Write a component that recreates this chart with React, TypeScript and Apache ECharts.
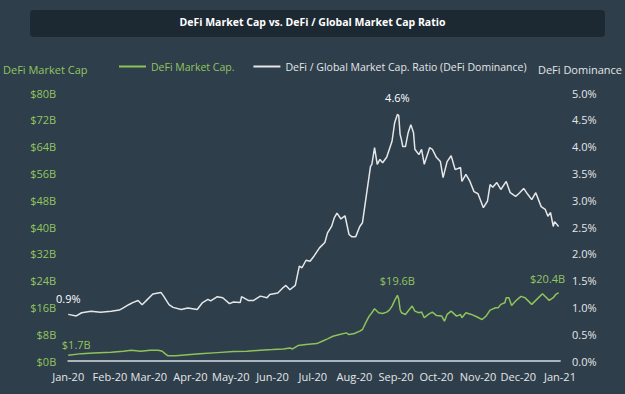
import React, { useEffect, useRef } from "react";
import * as echarts from "echarts";

const TITLE = "DeFi Market Cap vs. DeFi / Global Market Cap Ratio";
const CAP_NAME = "DeFi Market Cap.";
const DOM_NAME = "DeFi / Global Market Cap. Ratio (DeFi Dominance)";
const LEFT_AXIS_NAME = "DeFi Market Cap";
const RIGHT_AXIS_NAME = "DeFi Dominance";

const capDates = [
  "2020-01-01", "2020-01-11", "2020-01-20", "2020-02-02", "2020-02-11", "2020-02-17", "2020-02-24",
  "2020-03-02", "2020-03-08", "2020-03-11", "2020-03-13", "2020-03-15", "2020-03-21", "2020-03-30",
  "2020-04-08", "2020-04-21", "2020-05-03", "2020-05-13", "2020-05-23", "2020-06-01", "2020-06-09",
  "2020-06-14", "2020-06-16", "2020-06-20", "2020-06-26", "2020-07-04", "2020-07-08", "2020-07-12",
  "2020-07-16", "2020-07-21", "2020-07-26", "2020-07-28", "2020-08-01", "2020-08-05", "2020-08-07",
  "2020-08-10", "2020-08-12", "2020-08-14", "2020-08-16", "2020-08-19", "2020-08-22", "2020-08-25",
  "2020-08-27", "2020-08-29", "2020-08-31", "2020-09-02", "2020-09-03", "2020-09-04", "2020-09-05",
  "2020-09-08", "2020-09-10", "2020-09-13", "2020-09-15", "2020-09-18", "2020-09-20", "2020-09-22",
  "2020-09-25", "2020-09-28", "2020-10-01", "2020-10-05", "2020-10-07", "2020-10-09", "2020-10-12",
  "2020-10-16", "2020-10-19", "2020-10-20", "2020-10-23", "2020-10-27", "2020-10-31", "2020-11-04",
  "2020-11-07", "2020-11-10", "2020-11-14", "2020-11-16", "2020-11-18", "2020-11-21", "2020-11-22",
  "2020-11-24", "2020-11-26", "2020-11-29", "2020-12-01", "2020-12-03", "2020-12-06", "2020-12-08",
  "2020-12-11", "2020-12-14", "2020-12-17", "2020-12-19", "2020-12-22", "2020-12-24", "2020-12-27",
  "2020-12-29", "2020-12-31",
];
const capValues = [
  1.7, 2.2, 2.4, 2.6, 2.9, 3.2, 2.9,
  3.2, 3.2, 2.9, 2.2, 1.6, 1.6, 1.9,
  2.2, 2.5, 2.8, 2.9, 3.2, 3.4, 3.6,
  3.9, 3.6, 4.6, 4.9, 5.2, 5.9, 6.6,
  7.4, 7.9, 8.4, 7.9, 8.2, 8.9, 9.4,
  11.9, 13.4, 14.4, 15.6, 14.4, 14.2, 14.6,
  15.2, 16.4, 18.1, 19.6, 18.4, 15.4, 14.4,
  13.9, 14.9, 16.4, 14.9, 14.4, 14.6, 12.9,
  13.9, 14.6, 13.6, 13.4, 11.9, 13.9, 14.9,
  13.4, 13.9, 12.9, 14.4, 13.9, 13.2, 12.4,
  13.4, 15.2, 15.9, 15.9, 16.9, 17.4, 18.9,
  18.9, 16.6, 17.9, 18.6, 19.3, 18.9, 18.1,
  16.9, 18.1, 19.3, 20.1, 18.9, 18.1, 18.9,
  19.9, 20.4,
];

const domDates = [
  "2020-01-01", "2020-01-07", "2020-01-11", "2020-01-18", "2020-01-25", "2020-02-02", "2020-02-08",
  "2020-02-11", "2020-02-15", "2020-02-18", "2020-02-22", "2020-02-25", "2020-02-29", "2020-03-04",
  "2020-03-10", "2020-03-12", "2020-03-16", "2020-03-19", "2020-03-25", "2020-03-30", "2020-04-06",
  "2020-04-10", "2020-04-14", "2020-04-16", "2020-04-21", "2020-04-25", "2020-04-30", "2020-05-03",
  "2020-05-08", "2020-05-09", "2020-05-14", "2020-05-18", "2020-05-23", "2020-05-28", "2020-05-30",
  "2020-06-05", "2020-06-09", "2020-06-11", "2020-06-14", "2020-06-18", "2020-06-21", "2020-06-23",
  "2020-06-26", "2020-06-29", "2020-07-02", "2020-07-06", "2020-07-10", "2020-07-12", "2020-07-15",
  "2020-07-17", "2020-07-19", "2020-07-22", "2020-07-25", "2020-07-28", "2020-07-30", "2020-08-02",
  "2020-08-05", "2020-08-07", "2020-08-10", "2020-08-13", "2020-08-14", "2020-08-16", "2020-08-18",
  "2020-08-20", "2020-08-22", "2020-08-25", "2020-08-27", "2020-08-29", "2020-08-31", "2020-09-02",
  "2020-09-03", "2020-09-04", "2020-09-05", "2020-09-06", "2020-09-08", "2020-09-10", "2020-09-12",
  "2020-09-14", "2020-09-15", "2020-09-18", "2020-09-20", "2020-09-22", "2020-09-26", "2020-09-28",
  "2020-10-01", "2020-10-04", "2020-10-06", "2020-10-09", "2020-10-12", "2020-10-15", "2020-10-19",
  "2020-10-20", "2020-10-23", "2020-10-26", "2020-10-29", "2020-11-01", "2020-11-05", "2020-11-08",
  "2020-11-10", "2020-11-12", "2020-11-15", "2020-11-18", "2020-11-22", "2020-11-25", "2020-11-29",
  "2020-12-02", "2020-12-05", "2020-12-08", "2020-12-11", "2020-12-14", "2020-12-18", "2020-12-21",
  "2020-12-23", "2020-12-25", "2020-12-27", "2020-12-28", "2020-12-31",
];
const domValues = [
  0.87, 0.84, 0.9, 0.93, 0.91, 0.93, 0.95,
  0.99, 1.05, 1.09, 1.13, 1.05, 1.15, 1.25,
  1.28, 1.21, 1.05, 1.0, 0.96, 0.99, 0.96,
  1.09, 1.15, 1.12, 1.2, 1.18, 1.07, 1.1,
  1.09, 1.2, 1.13, 1.13, 1.21, 1.18, 1.24,
  1.27, 1.37, 1.41, 1.33, 1.41, 1.77, 1.74,
  1.88, 1.86, 1.96, 2.11, 2.21, 2.39, 2.51,
  2.67, 2.76, 2.65, 2.71, 2.36, 2.32, 2.32,
  2.51, 2.58, 3.11, 3.63, 3.67, 3.98, 3.67,
  3.76, 3.7, 3.8, 3.95, 4.1, 4.45, 4.6,
  4.58, 4.23, 4.13, 4.0, 4.0, 4.26, 4.41,
  4.26, 3.95, 3.85, 3.95, 3.67, 3.98, 3.95,
  3.8, 3.72, 3.42, 3.72, 3.83, 3.57, 3.61,
  3.35, 3.48, 3.35, 3.16, 3.12, 2.86, 2.98,
  3.29, 3.24, 3.33, 3.2, 3.35, 3.14, 3.07,
  3.14, 3.22, 3.11, 3.01, 3.14, 2.88, 2.83,
  2.7, 2.77, 2.51, 2.6, 2.51,
];

const X_MIN = "2020-01-01";
const X_MAX = "2021-01-01";
const CAP_MAX = 80;
const CAP_STEP = 8;
const DOM_MAX = 5;
const DOM_STEP = 0.5;

const BG = "#2e3e4b";
const TITLE_BG = "#1d2932";
const GREEN = "#8dc35a";
const GREEN_TEXT = "#93c560";
const WHITE = "#e4e6e8";
const FONT = "'Open Sans', 'Noto Sans', sans-serif";

export default function App() {
  const ref = useRef<HTMLDivElement>(null);

  useEffect(() => {
    if (!ref.current) return;
    const chart = echarts.init(ref.current, undefined, { renderer: "svg" });

    const capData = capDates.map((d, i) => [d, capValues[i]]);
    const domData = domDates.map((d, i) => [d, domValues[i]]);

    const capPeak = capValues.indexOf(19.6);
    const capLast = capValues.length - 1;
    const domPeak = domValues.indexOf(Math.max(...domValues));

    const capMark = (i: number, offset: number[]) => ({
      coord: [capDates[i], capValues[i]],
      value: capValues[i],
      label: { offset },
    });
    const domMark = (i: number, offset: number[]) => ({
      coord: [domDates[i], domValues[i]],
      value: domValues[i],
      label: { offset },
    });

    chart.setOption({
      animation: false,
      backgroundColor: BG,
      textStyle: { fontFamily: FONT },
      title: {
        text: TITLE,
        left: "center",
        top: 16,
        padding: 0,
        textStyle: { color: "#ffffff", fontSize: 10.5, fontWeight: "bold", fontFamily: FONT },
      },
      graphic: [
        {
          type: "rect",
          z: -1,
          shape: { x: 30, y: 10, width: 575, height: 27, r: 4 },
          style: { fill: TITLE_BG },
        },
      ],
      legend: {
        left: 119,
        top: 61,
        itemWidth: 27,
        itemHeight: 2,
        itemGap: 19,
        icon: "rect",
        padding: 0,
        data: [
          { name: CAP_NAME, textStyle: { color: GREEN_TEXT } },
          { name: DOM_NAME, textStyle: { color: WHITE } },
        ],
        textStyle: { fontSize: 10.5, fontFamily: FONT },
      },
      grid: { left: 67, right: 63, top: 93, bottom: 33, containLabel: false },
      xAxis: {
        type: "time",
        min: X_MIN,
        max: X_MAX,
        splitNumber: 12,
        minInterval: 28 * 86400000,
        maxInterval: 31 * 86400000,
        axisLine: { show: true, lineStyle: { color: "#aab5be", width: 2 } },
        axisTick: { show: false },
        splitLine: { show: false },
        axisLabel: {
          formatter: "{MMM}-{yy}",
          color: WHITE,
          fontSize: 11,
          margin: 10,
          showMinLabel: true,
          showMaxLabel: true,
          hideOverlap: false,
        },
      },
      yAxis: [
        {
          type: "value",
          name: LEFT_AXIS_NAME,
          nameLocation: "end",
          nameGap: 18,
          nameTextStyle: { color: GREEN_TEXT, fontSize: 11, padding: [0, 46, 0, 0], fontFamily: FONT },
          min: 0,
          max: CAP_MAX,
          interval: CAP_STEP,
          axisLine: { show: false },
          axisTick: { show: false },
          splitLine: { show: false },
          axisLabel: { color: GREEN_TEXT, fontSize: 11, margin: 12, formatter: (v: number) => `$${v}B` },
        },
        {
          type: "value",
          name: RIGHT_AXIS_NAME,
          nameLocation: "end",
          nameGap: 18,
          nameTextStyle: { color: WHITE, fontSize: 11, padding: [0, 0, 0, 40], fontFamily: FONT },
          min: 0,
          max: DOM_MAX,
          interval: DOM_STEP,
          position: "right",
          axisLine: { show: false },
          axisTick: { show: false },
          splitLine: { show: false },
          axisLabel: { color: WHITE, fontSize: 11, margin: 12, formatter: (v: number) => `${v.toFixed(1)}%` },
        },
      ],
      series: [
        {
          name: CAP_NAME,
          type: "line",
          yAxisIndex: 0,
          data: capData,
          showSymbol: false,
          symbol: "none",
          lineStyle: { color: GREEN, width: 1.5 },
          itemStyle: { color: GREEN },
          z: 3,
          markPoint: {
            symbol: "circle",
            symbolSize: 0,
            itemStyle: { color: "transparent" },
            label: {
              show: true,
              position: "top",
              distance: 5,
              color: GREEN_TEXT,
              fontSize: 11,
              fontFamily: FONT,
              formatter: (p: any) => `$${Number(p.value).toFixed(1)}B`,
            },
            data: [capMark(0, [8, 0]), capMark(capPeak, [0, -4]), capMark(capLast, [-11, -4])],
          },
        },
        {
          name: DOM_NAME,
          type: "line",
          yAxisIndex: 1,
          data: domData,
          showSymbol: false,
          symbol: "none",
          lineStyle: { color: WHITE, width: 1.5 },
          itemStyle: { color: WHITE },
          z: 2,
          markPoint: {
            symbol: "circle",
            symbolSize: 0,
            itemStyle: { color: "transparent" },
            label: {
              show: true,
              position: "top",
              distance: 5,
              color: "#ffffff",
              fontSize: 11,
              fontFamily: FONT,
              formatter: (p: any) => `${Number(p.value).toFixed(1)}%`,
            },
            data: [domMark(0, [0, -5]), domMark(domPeak, [0, -6])],
          },
        },
      ],
    });

    return () => chart.dispose();
  }, []);

  return (
    <div
      ref={ref}
      style={{ position: "fixed", left: 0, top: 0, width: 625, height: 394 }}
    />
  );
}
